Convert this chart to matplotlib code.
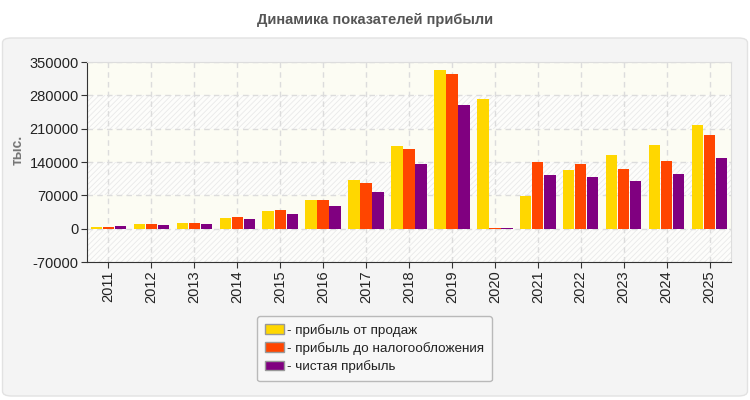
import matplotlib
matplotlib.use("Agg")
import matplotlib.pyplot as plt
import numpy as np
from matplotlib.patches import FancyBboxPatch, Patch

years = ["2011", "2012", "2013", "2014", "2015", "2016", "2017", "2018",
         "2019", "2020", "2021", "2022", "2023", "2024", "2025"]
sales_profit = [4200, 10500, 12600, 23100, 37800, 60900, 102900, 174300,
                333900, 273000, 69300, 123900, 155400, 176400, 218400]
pretax_profit = [4200, 10500, 12600, 25200, 39900, 60900, 96600, 168000,
                 325500, 2100, 140700, 136500, 126000, 142800, 197400]
net_profit = [6300, 8400, 10500, 21000, 31500, 48300, 77700, 136500,
              260400, 2100, 113400, 109200, 100800, 115500, 149100]
series_names = ["- прибыль от продаж", "- прибыль до налогообложения", "- чистая прибыль"]
colors = ["#FFD700", "#FF4500", "#800080"]
yticks = [-70000, 0, 70000, 140000, 210000, 280000, 350000]

plt.rcParams['font.family'] = ['Liberation Sans', 'DejaVu Sans']
plt.rcParams['hatch.linewidth'] = 0.6
plt.rcParams['hatch.color'] = '#e6e6e6'

fig = plt.figure(figsize=(7.5, 4.0), dpi=100)
fig.patch.set_facecolor('white')

panel = FancyBboxPatch((2.5 / 750, 4 / 400), 745 / 750, 358 / 400,
                       boxstyle="round,pad=0,rounding_size=0.012",
                       transform=fig.transFigure, facecolor='#f4f4f4',
                       edgecolor='#e2e2e2', linewidth=1.0, zorder=-10)
fig.patches.append(panel)

fig.text(0.5, 1 - 20 / 400, "Динамика показателей прибыли", ha='center', va='center',
         fontsize=10.5, fontweight='bold', color='#555555')

ax = fig.add_axes([87 / 750, 1 - 262 / 400, 644 / 750, 200 / 400])
ax.set_zorder(1)
ax.set_facecolor('#fcfcf4')

# alternating bands
for i in range(len(yticks) - 1):
    lo, hi = yticks[i], yticks[i + 1]
    if i % 2 == 0:
        ax.axhspan(lo, hi, facecolor='#fdfdfb', edgecolor='#e9e9e9',
                   hatch='//////', linewidth=0, zorder=0)
    else:
        ax.axhspan(lo, hi, facecolor='#fcfcf3', linewidth=0, zorder=0)

x = np.arange(len(years))
w = 0.265
step = 0.28
for k, (vals, c) in enumerate(zip([sales_profit, pretax_profit, net_profit], colors)):
    ax.bar(x + (k - 1) * step, vals, width=w, color=c, zorder=3, linewidth=0)

ax.set_xlim(-0.5, len(years) - 0.5)
ax.set_ylim(-70000, 350000)
ax.set_yticks(yticks)
ax.set_yticklabels([str(v) for v in yticks], fontsize=10.5, color='#222222')
ax.set_xticks(x)
ax.set_xticklabels(years, rotation=90, fontsize=10.5, color='#222222')
ax.grid(True, color='#dcdcdc', linestyle=(0, (4, 3)), linewidth=1, zorder=1)
for s in ['top', 'right']:
    ax.spines[s].set_color('#dddddd')
for s in ['left', 'bottom']:
    ax.spines[s].set_color('#333333')
ax.tick_params(axis='both', length=4, color='#333333', pad=2)
ax.set_ylabel("тыс.", fontsize=10, fontweight='bold', color='#777777')
ax.yaxis.set_label_coords(-0.097, 0.56)

handles = [Patch(facecolor=c, edgecolor='#999999', linewidth=1) for c in colors]
leg = fig.legend(handles, series_names, loc='upper left',
                 bbox_to_anchor=(257 / 750, 1 - 316 / 400), frameon=True,
                 borderaxespad=0,
                 fontsize=9.7, handlelength=1.4, handleheight=0.75, handletextpad=0.2,
                 labelspacing=0.38, borderpad=0.6, fancybox=True, labelcolor='#222222')
leg.get_frame().set_facecolor('#f8f8f8')
leg.get_frame().set_edgecolor('#aaaaaa')
leg.get_frame().set_linewidth(1)

fig.savefig("out.png", dpi=100)
